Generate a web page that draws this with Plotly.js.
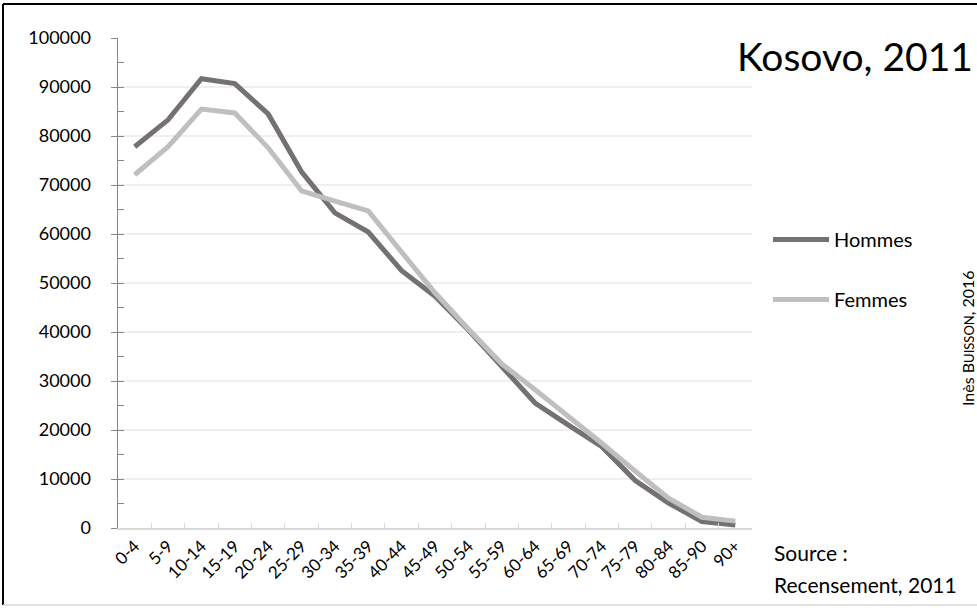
<!DOCTYPE html>
<html>
<head>
<meta charset="utf-8">
<script src="https://cdn.plot.ly/plotly-3.0.1.min.js"></script>
<style>html,body{margin:0;padding:0;background:#fff;}#chart{width:977px;height:608px;}</style>
</head>
<body>
<div id="chart"></div>
<script>
var ageGroups = ["0-4","5-9","10-14","15-19","20-24","25-29","30-34","35-39","40-44","45-49","50-54","55-59","60-64","65-69","70-74","75-79","80-84","85-90","90+"];
var hommes = [77800, 83300, 91700, 90700, 84500, 72700, 64300, 60400, 52500, 47300, 40400, 32900, 25500, 21000, 16600, 9700, 5100, 1300, 600];
var femmes = [72100, 77800, 85500, 84700, 77600, 68800, 66700, 64700, 56300, 48000, 40600, 33500, 28200, 22800, 17300, 11600, 6100, 2200, 1400];
var yTicks = [0,10000,20000,30000,40000,50000,60000,70000,80000,90000,100000];

var W = 977, H = 608;
var M = {l: 118, r: 225, t: 38, b: 80};
var pw = W - M.l - M.r, ph = H - M.t - M.b;
function px(x){ return (x - M.l) / pw; }
function py(y){ return (H - M.b - y) / ph; }

var FONT = "Lato, 'Open Sans', sans-serif";

var traces = [
  {x: ageGroups, y: hommes, name: "Hommes", type: "scatter", mode: "lines",
   line: {color: "#767171", width: 5}, legendgroup: "h", hoverinfo: "skip"},
  {x: ageGroups, y: femmes, name: "Femmes", type: "scatter", mode: "lines",
   line: {color: "#BFBFBF", width: 5}, legendgroup: "f", hoverinfo: "skip"},
  {x: ageGroups, y: hommes, yaxis: "y2", type: "scatter", mode: "lines",
   line: {width: 0}, opacity: 0, showlegend: false, hoverinfo: "skip"}
];

var layout = {
  width: W, height: H,
  margin: M,
  paper_bgcolor: "#ffffff", plot_bgcolor: "#ffffff",
  font: {family: FONT, size: 18, color: "#000"},
  showlegend: true,
  legend: {x: px(768), y: py(220), xanchor: "left", yanchor: "top",
           font: {family: FONT, size: 20, color: "#000"},
           itemwidth: 56, tracegroupgap: 31, bgcolor: "rgba(0,0,0,0)"},
  xaxis: {type: "category", range: [-0.5, ageGroups.length - 0.5], autorange: false,
          tickangle: -45, tickson: "boundaries",
          ticks: "inside", ticklen: 5, tickcolor: "#D9D9D9", tickwidth: 1,
          showline: true, linecolor: "#D9D9D9", linewidth: 1.5,
          showgrid: false, zeroline: false,
          tickfont: {family: FONT, size: 17, color: "#000"}},
  yaxis: {range: [0, 100000], tickvals: yTicks, ticktext: yTicks.map(String),
          ticks: "outside", ticklen: 6, tickcolor: "#868686", tickwidth: 1,
          showline: true, linecolor: "#868686", linewidth: 1.5,
          showgrid: true, gridcolor: "#EFEFEF", gridwidth: 1.5,
          zeroline: false, ticklabelstandoff: 16,
          tickfont: {family: FONT, size: 18, color: "#000"}},
  yaxis2: {range: [0, 100000], overlaying: "y", side: "left", anchor: "x",
           dtick: 5000, tick0: 0, ticks: "inside", ticklen: 6,
           tickcolor: "#868686", tickwidth: 1, showticklabels: false,
           showgrid: false, zeroline: false, showline: false},
  annotations: [
    {text: "Kosovo, 2011", xref: "paper", yref: "paper", x: px(735), y: py(56),
     xanchor: "left", yanchor: "middle", showarrow: false,
     font: {family: FONT, size: 39, color: "#000"}},
    {text: "Source :", xref: "paper", yref: "paper", x: px(772), y: py(552),
     xanchor: "left", yanchor: "middle", showarrow: false,
     font: {family: FONT, size: 21, color: "#000"}},
    {text: "Recensement, 2011", xref: "paper", yref: "paper", x: px(772), y: py(584),
     xanchor: "left", yanchor: "middle", showarrow: false,
     font: {family: FONT, size: 21, color: "#000"}},
    {text: "Inès B<span style='font-size:13px'>UISSON</span>, 2016", xref: "paper", yref: "paper",
     x: px(967), y: py(338), xanchor: "center", yanchor: "middle",
     textangle: -90, showarrow: false,
     font: {family: FONT, size: 16, color: "#000"}}
  ],
  shapes: [
    {type: "line", xref: "paper", yref: "paper", x0: px(3), x1: px(990), y0: py(4), y1: py(4),
     line: {color: "#000", width: 2}},
    {type: "line", xref: "paper", yref: "paper", x0: px(3), x1: px(3), y0: py(4), y1: py(605),
     line: {color: "#000", width: 2}},
    {type: "line", xref: "paper", yref: "paper", x0: px(3), x1: px(990), y0: py(605), y1: py(605),
     line: {color: "#D9D9D9", width: 1.5}}
  ]
};

Plotly.newPlot("chart", traces, layout, {displayModeBar: false, staticPlot: true});
</script>
</body>
</html>
